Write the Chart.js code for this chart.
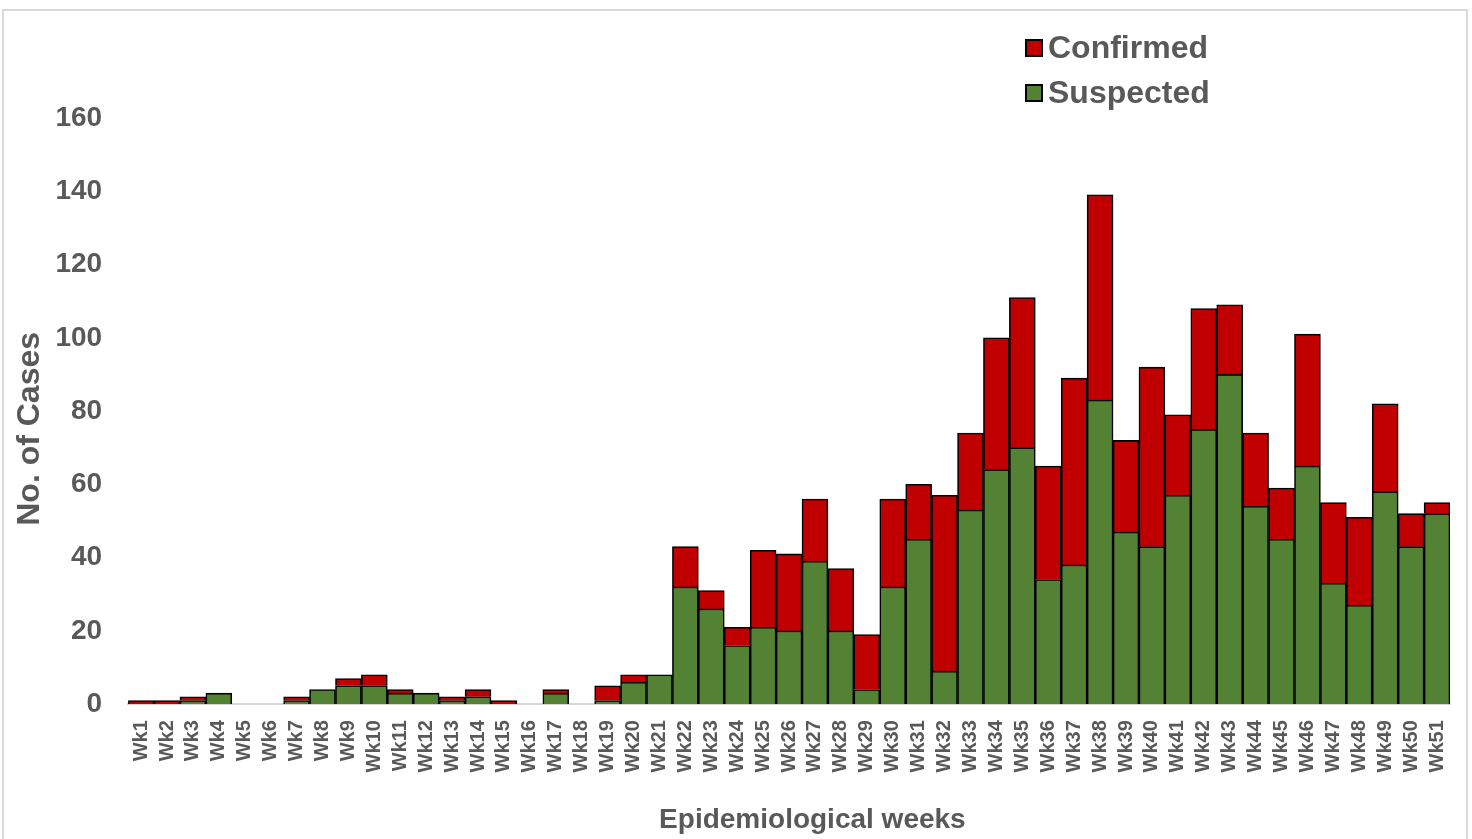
<!DOCTYPE html>
<html>
<head>
<meta charset="utf-8">
<script src="https://cdn.jsdelivr.net/npm/chart.js@4.4.1/dist/chart.umd.min.js"></script>
<style>
  html, body { margin: 0; padding: 0; background: #fff; }
  #wrap { width: 1472px; height: 839px; position: relative; }
</style>
</head>
<body>
<div id="wrap"><canvas id="epi-weeks"></canvas></div>
<script>
var weeks = [];
for (var w = 1; w <= 51; w++) weeks.push("Wk" + w);

var suspected = [0, 0, 1, 3, 0, 0, 1, 4, 5, 5, 3, 3, 1, 2, 0, 0, 3, 0, 1, 6, 8,
    32, 26, 16, 21, 20, 39, 20, 4, 32, 45, 9, 53, 64, 70, 34, 38, 83, 47, 43,
    57, 75, 90, 54, 45, 65, 33, 27, 58, 43, 52];
var confirmed = [1, 1, 1, 0, 0, 0, 1, 0, 2, 3, 1, 0, 1, 2, 1, 0, 1, 0, 4, 2, 0,
    11, 5, 5, 21, 21, 17, 17, 15, 24, 15, 48, 21, 36, 41, 31, 51, 56, 25, 49,
    22, 33, 19, 20, 14, 36, 22, 24, 24, 9, 3];

var yTicks = [0, 20, 40, 60, 80, 100, 120, 140, 160];

var textGrey = "#595959";
var fontFamily = "'Liberation Sans', Arial, sans-serif";

// empty weeks get no bar at all (no black stub on the axis)
function noZero(arr) {
    return arr.map(function (v) { return v === 0 ? null : v; });
}

// grey frame round the whole chart
var framePlugin = {
    id: 'frame',
    beforeDraw: function (chart) {
        var ctx = chart.ctx;
        ctx.save();
        ctx.fillStyle = "#fff";
        ctx.fillRect(0, 0, chart.width, chart.height);
        ctx.strokeStyle = "#d9d9d9";
        ctx.lineWidth = 2;
        ctx.strokeRect(3, 10, chart.width - 8, chart.height + 10);
        ctx.restore();
    }
};

// two-row legend in the top right, Confirmed first
var legendPlugin = {
    id: 'stackLegend',
    afterDraw: function (chart) {
        var ctx = chart.ctx;
        var items = chart.data.datasets.slice().reverse();
        ctx.save();
        ctx.font = "bold 32px " + fontFamily;
        ctx.textBaseline = "middle";
        items.forEach(function (ds, i) {
            var y = 48 + i * 45;
            ctx.fillStyle = ds.backgroundColor;
            ctx.strokeStyle = "#000";
            ctx.lineWidth = 2;
            ctx.fillRect(1026, y - 8, 16, 16);
            ctx.strokeRect(1026, y - 8, 16, 16);
            ctx.fillStyle = textGrey;
            ctx.fillText(ds.label, 1048, y + 1);
        });
        ctx.restore();
    }
};

new Chart(document.getElementById("epi-weeks"), {
    type: 'bar',
    data: {
        labels: weeks,
        datasets: [
            {
                label: "Suspected",
                data: noZero(suspected),
                backgroundColor: "#548235",
                borderColor: "#000",
                borderWidth: 1.6,
                borderSkipped: 'bottom',
                barPercentage: 1.0,
                categoryPercentage: 1.0
            },
            {
                label: "Confirmed",
                data: noZero(confirmed),
                backgroundColor: "#C00000",
                borderColor: "#000",
                borderWidth: 1.6,
                borderSkipped: 'bottom',
                barPercentage: 1.0,
                categoryPercentage: 1.0
            }
        ]
    },
    options: {
        responsive: true,
        maintainAspectRatio: false,
        animation: false,
        layout: { padding: { left: 5, right: 22, top: 118, bottom: 2 } },
        plugins: {
            legend: { display: false },
            tooltip: { enabled: false }
        },
        scales: {
            x: {
                stacked: true,
                grid: { display: false, tickLength: 16 },
                border: { display: true, color: "#d9d9d9", width: 2 },
                ticks: {
                    color: textGrey,
                    font: { family: fontFamily, size: 20, weight: 'bold' },
                    minRotation: 90,
                    maxRotation: 90,
                    autoSkip: false,
                    padding: 0
                },
                title: {
                    display: true,
                    // leading blanks nudge the title right, as in the original
                    text: "      Epidemiological weeks",
                    color: textGrey,
                    font: { family: fontFamily, size: 28, weight: 'bold' },
                    padding: { top: 31, bottom: 0 }
                }
            },
            y: {
                stacked: true,
                min: 0,
                max: 160,
                afterBuildTicks: function (axis) {
                    axis.ticks = yTicks.map(function (v) { return { value: v }; });
                },
                grid: { display: false, tickLength: 26 },
                border: { display: false },
                ticks: {
                    color: textGrey,
                    font: { family: fontFamily, size: 28, weight: 'bold' },
                    padding: 0
                },
                title: {
                    display: true,
                    text: "No. of Cases    ",
                    color: textGrey,
                    font: { family: fontFamily, size: 32, weight: 'bold' },
                    padding: { top: 6, bottom: 6 }
                }
            }
        }
    },
    plugins: [framePlugin, legendPlugin]
});
</script>
</body>
</html>
